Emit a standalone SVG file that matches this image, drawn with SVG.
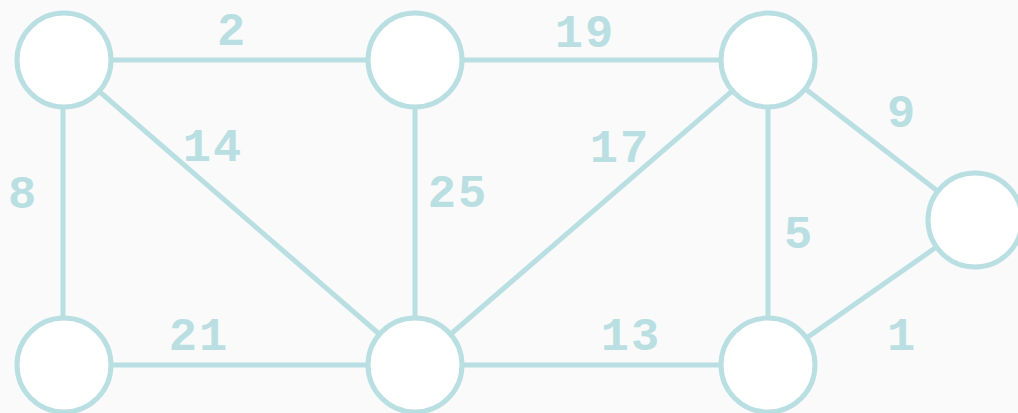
<svg xmlns="http://www.w3.org/2000/svg" width="1018" height="413" viewBox="0 0 1018 413">
<style>
.e{stroke:#b9dfe2;stroke-width:5;fill:none}
.n{stroke:#b9dfe2;stroke-width:5;fill:#ffffff}
.t{font-family:"Liberation Mono",monospace;font-weight:bold;font-size:47px;fill:#b9dfe2;text-anchor:middle}
.w{letter-spacing:2px}
</style>
<rect width="1018" height="413" fill="#fafafa"/>
<g id="edges">
<line class="e" x1="63" y1="60" x2="415" y2="60"/>
<line class="e" x1="415" y1="60" x2="768" y2="60"/>
<line class="e" x1="63" y1="60" x2="63" y2="365"/>
<line class="e" x1="63" y1="60" x2="415" y2="365"/>
<line class="e" x1="415" y1="60" x2="415" y2="365"/>
<line class="e" x1="768" y1="60" x2="415" y2="365"/>
<line class="e" x1="768" y1="60" x2="975" y2="220"/>
<line class="e" x1="768" y1="60" x2="768" y2="365"/>
<line class="e" x1="975" y1="220" x2="768" y2="365"/>
<line class="e" x1="63" y1="365" x2="415" y2="365"/>
<line class="e" x1="415" y1="365" x2="768" y2="365"/>
<text class="t" x="231" y="45">2</text>
<text class="t w" x="585" y="47">19</text>
<text class="t w" x="213" y="161">14</text>
<text class="t w" x="458" y="207">25</text>
<text class="t w" x="620" y="162">17</text>
<text class="t" x="22" y="208">8</text>
<text class="t" x="901" y="127">9</text>
<text class="t" x="798" y="248">5</text>
<text class="t" x="901" y="350">1</text>
<text class="t w" x="199" y="350">21</text>
<text class="t w" x="631" y="350">13</text>
</g>
<g id="nA"><circle class="n" cx="64" cy="60" r="47"/></g>
<g id="nB"><circle class="n" cx="415" cy="60" r="47"/></g>
<g id="nC"><circle class="n" cx="768" cy="60" r="47"/></g>
<g id="nD"><circle class="n" cx="975" cy="220" r="47"/></g>
<g id="nE"><circle class="n" cx="64" cy="365" r="47"/></g>
<g id="nF"><circle class="n" cx="415" cy="365" r="47"/></g>
<g id="nG"><circle class="n" cx="768" cy="365" r="47"/></g>
</svg>
